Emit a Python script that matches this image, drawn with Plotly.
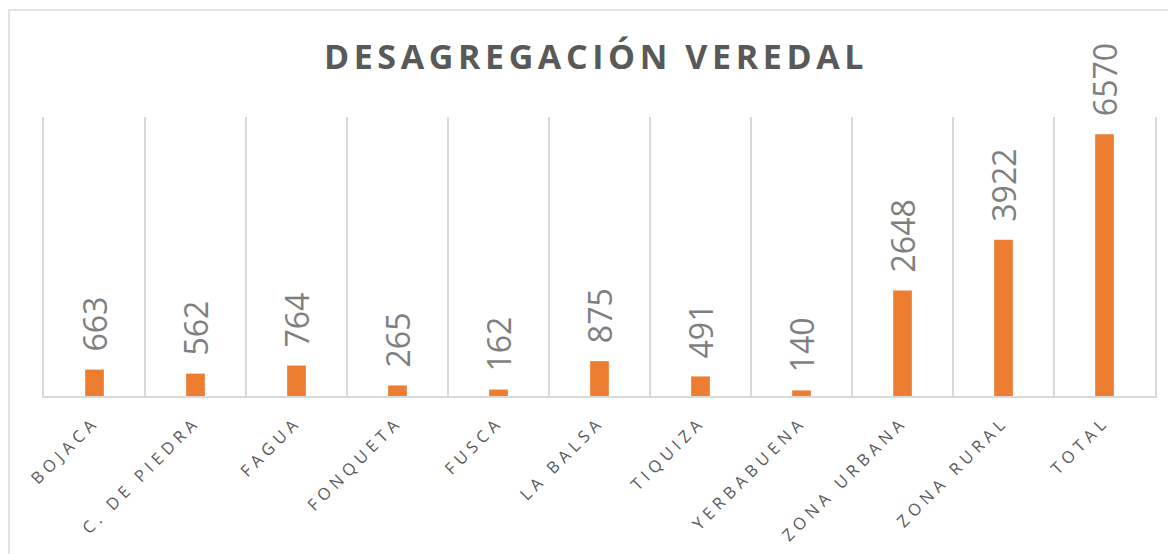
import plotly.graph_objects as go

categories = ["BOJACA", "C. DE PIEDRA", "FAGUA", "FONQUETA", "FUSCA", "LA BALSA",
              "TIQUIZA", "YERBABUENA", "ZONA URBANA", "ZONA RURAL", "TOTAL"]
values = [663, 562, 764, 265, 162, 875, 491, 140, 2648, 3922, 6570]
title_text = "DESAGREGACIÓN VEREDAL"

# page body has an 8px default margin; compensate so the figure fills the window
OFF = 8
W, H = 1176 - OFF, 554 - OFF
L, R, T, B = 44 - OFF, 21, 117 - OFF, 158

orange = "#ED7D31"
grid = "#D9D9D9"

fig = go.Figure()
fig.add_trace(go.Bar(
    x=categories, y=values, marker=dict(color=orange, line=dict(width=0)),
    width=0.185, hoverinfo="x+y",
))

for c, v in zip(categories, values):
    fig.add_annotation(
        x=c, y=v, xref="x", yref="y", text=str(v), showarrow=False,
        textangle=-90, xanchor="center", yanchor="bottom", yshift=16,
        font=dict(family="Open Sans", size=32, color="#7F7F7F"),
    )

ticktext = ['<span style="letter-spacing:4.8px">%s</span>' % c for c in categories]

fig.update_layout(
    width=W, height=H,
    margin=dict(l=L, r=R, t=T, b=B, autoexpand=False),
    paper_bgcolor="white", plot_bgcolor="white",
    showlegend=False,
    title=dict(
        text='<span style="letter-spacing:4.6px"><b>%s</b></span>' % title_text,
        x=(596 - OFF) / W, xref="container", xanchor="center",
        y=1 - (57 - OFF) / H, yref="container", yanchor="middle",
        font=dict(family="Open Sans", size=34, color="#595959"),
    ),
    xaxis=dict(
        type="category", tickson="boundaries", showgrid=True, gridcolor=grid,
        gridwidth=1.5, showline=True, linecolor=grid, linewidth=1.5,
        ticks="", tickangle=-45, tickvals=categories, ticktext=ticktext,
        ticklabelstandoff=8,
        tickfont=dict(family="Open Sans", size=16.5, color="#595959"),
        range=[-0.5, len(categories) - 0.5], fixedrange=True,
    ),
    yaxis=dict(
        range=[0, 7000], showgrid=False, zeroline=False, showticklabels=False,
        ticks="", showline=True, mirror=True, linecolor=grid, linewidth=1.5,
        fixedrange=True,
    ),
    shapes=[dict(
        type="rect", xref="paper", yref="paper",
        x0=(9 - 44) / (W - L - R), x1=1.2,
        y0=-1.0, y1=(396 - 10) / (H - T - B),
        line=dict(color="#D9D9D9", width=1.5), fillcolor="rgba(0,0,0,0)", layer="below",
    )],
)

fig.write_html("out.html")
